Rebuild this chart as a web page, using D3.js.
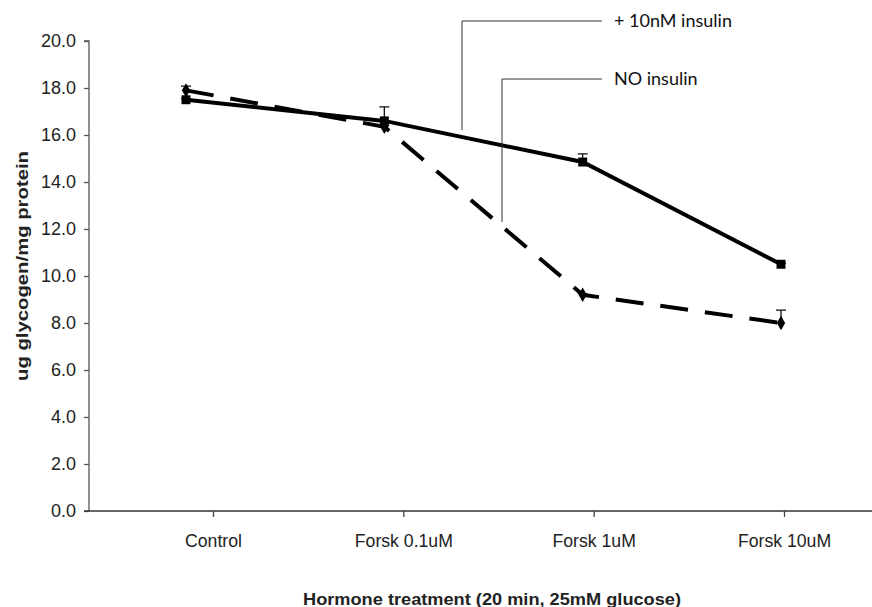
<!DOCTYPE html>
<meta charset='utf-8'>
<style>
    body { margin: 0; background: #fff; }
    text { font-family: 'Liberation Sans', Arial, sans-serif; fill: #222; }
    .note { font-family: Lato, 'Open Sans', sans-serif; font-size: 18px; fill: #111; }
</style>
<body>
<div id='container'></div>
<script src='https://d3js.org/d3.v7.min.js'></script>
<script>
    const categories = [ 'Control', 'Forsk 0.1uM', 'Forsk 1uM', 'Forsk 10uM' ];
    const yTicks = [ 0, 2, 4, 6, 8, 10, 12, 14, 16, 18, 20 ];

    // + 10nM insulin (solid, squares)
    const insulinValues = [ 17.5, 16.6, 14.85, 10.5 ];
    const insulinErrors = [ 0.05, 0.6, 0.35, 0.05 ];
    // NO insulin (dashed, diamonds)
    const noInsulinValues = [ 17.9, 16.35, 9.2, 8.0 ];
    const noInsulinErrors = [ 0.18, 0.05, 0.05, 0.55 ];

    const width = 872, height = 607;

    const svg = d3.select( '#container' )
        .append( 'svg' )
        .attr( 'width', width )
        .attr( 'height', height );

    // tick / label positions and marker positions do not line up in the original
    const xAxisScale = d3.scalePoint()
        .domain( categories )
        .range( [ 213, 784 ] );
    const xMark = d3.scalePoint()
        .domain( categories )
        .range( [ 186, 781 ] );
    const y = d3.scaleLinear()
        .domain( [ 0, 20 ] )
        .range( [ 511, 41 ] );

    // y axis
    const yAxisEl = svg.append( 'g' )
        .attr( 'transform', 'translate( 89, 0 )' )
        .call( d3.axisLeft( y ).tickValues( yTicks ).tickSize( 5 ).tickPadding( 8 ).tickFormat( d3.format( '.1f' ) ) );
    yAxisEl.select( '.domain' ).attr( 'stroke', '#555' ).attr( 'stroke-width', 1.3 ).attr( 'd', `M-5,${y(20)}H0V${y(0)}` );
    yAxisEl.selectAll( '.tick line' ).attr( 'stroke', '#555' ).attr( 'stroke-width', 1.3 );
    yAxisEl.selectAll( '.tick text' ).style( 'font-size', '18px' ).attr( 'fill', '#222' );

    // x axis
    const xAxisEl = svg.append( 'g' )
        .attr( 'transform', `translate( 0, ${y(0)} )` )
        .call( d3.axisBottom( xAxisScale ).tickSize( 6 ).tickPadding( 17 ) );
    xAxisEl.select( '.domain' ).attr( 'stroke', '#333' ).attr( 'stroke-width', 1.5 ).attr( 'd', `M84,0H${width}` );
    xAxisEl.selectAll( '.tick line' ).attr( 'stroke', '#444' ).attr( 'stroke-width', 1.3 );
    xAxisEl.selectAll( '.tick text' )
        .style( 'font-size', '19px' )
        .attr( 'transform', 'scale( 0.93, 1 )' )
        .attr( 'fill', '#222' );

    // axis titles
    svg.append( 'text' )
        .attr( 'transform', 'translate( 28, 266 ) rotate( -90 )' )
        .attr( 'text-anchor', 'middle' )
        .attr( 'textLength', 230 )
        .attr( 'lengthAdjust', 'spacingAndGlyphs' )
        .style( 'font-size', '16px' )
        .style( 'font-weight', 'bold' )
        .attr( 'fill', '#111' )
        .text( 'ug glycogen/mg protein' );

    svg.append( 'text' )
        .attr( 'x', 492 )
        .attr( 'y', 605 )
        .attr( 'text-anchor', 'middle' )
        .attr( 'textLength', 378 )
        .attr( 'lengthAdjust', 'spacingAndGlyphs' )
        .style( 'font-size', '16px' )
        .style( 'font-weight', 'bold' )
        .attr( 'fill', '#111' )
        .text( 'Hormone treatment (20 min, 25mM glucose)' );

    const line = d3.line()
        .x( ( d, i ) => xMark( categories[ i ] ) )
        .y( d => y( d ) );

    const series = [
        { name: 'insulin', values: insulinValues, errors: insulinErrors, dash: null, symbol: d3.symbolSquare, size: 80 },
        { name: 'noInsulin', values: noInsulinValues, errors: noInsulinErrors, dash: '28 17', symbol: d3.symbolDiamond, size: 60 },
    ];

    // draw dashed first so the solid line sits on top
    series.slice().reverse().forEach( s => {
        const g = svg.append( 'g' ).attr( 'class', s.name );

        // error bars (upper half only)
        g.selectAll( '.err' )
            .data( s.values )
            .enter().append( 'path' )
            .attr( 'class', 'err' )
            .attr( 'fill', 'none' )
            .attr( 'stroke', '#111' )
            .attr( 'stroke-width', 1.3 )
            .attr( 'd', ( d, i ) => {
                const cx = xMark( categories[ i ] ), top = y( d + s.errors[ i ] );
                return `M${cx},${y( d )}V${top}M${cx - 5},${top}H${cx + 5}`;
            } );

        g.append( 'path' )
            .datum( s.values )
            .attr( 'fill', 'none' )
            .attr( 'stroke', '#000' )
            .attr( 'stroke-width', 4 )
            .attr( 'stroke-dasharray', s.dash )
            .attr( 'd', line );

        g.selectAll( '.marker' )
            .data( s.values )
            .enter().append( 'path' )
            .attr( 'class', 'marker' )
            .attr( 'fill', '#000' )
            .attr( 'transform', ( d, i ) => `translate( ${xMark( categories[ i ] )}, ${y( d )} )` )
            .attr( 'd', d3.symbol().type( s.symbol ).size( s.size ) );
    } );

    // callout labels
    const notes = [
        { text: '+ 10nM insulin', x0: 462, y0: 21, y1: 130 },
        { text: 'NO insulin', x0: 502, y0: 79, y1: 222 },
    ];
    notes.forEach( n => {
        svg.append( 'path' )
            .attr( 'fill', 'none' )
            .attr( 'stroke', '#333' )
            .attr( 'stroke-width', 1 )
            .attr( 'd', `M${n.x0},${n.y1}V${n.y0}H602` );
        svg.append( 'text' )
            .attr( 'class', 'note' )
            .attr( 'x', 614 )
            .attr( 'y', n.y0 )
            .attr( 'dy', '0.35em' )
            .text( n.text );
    } );
</script>
</body>
